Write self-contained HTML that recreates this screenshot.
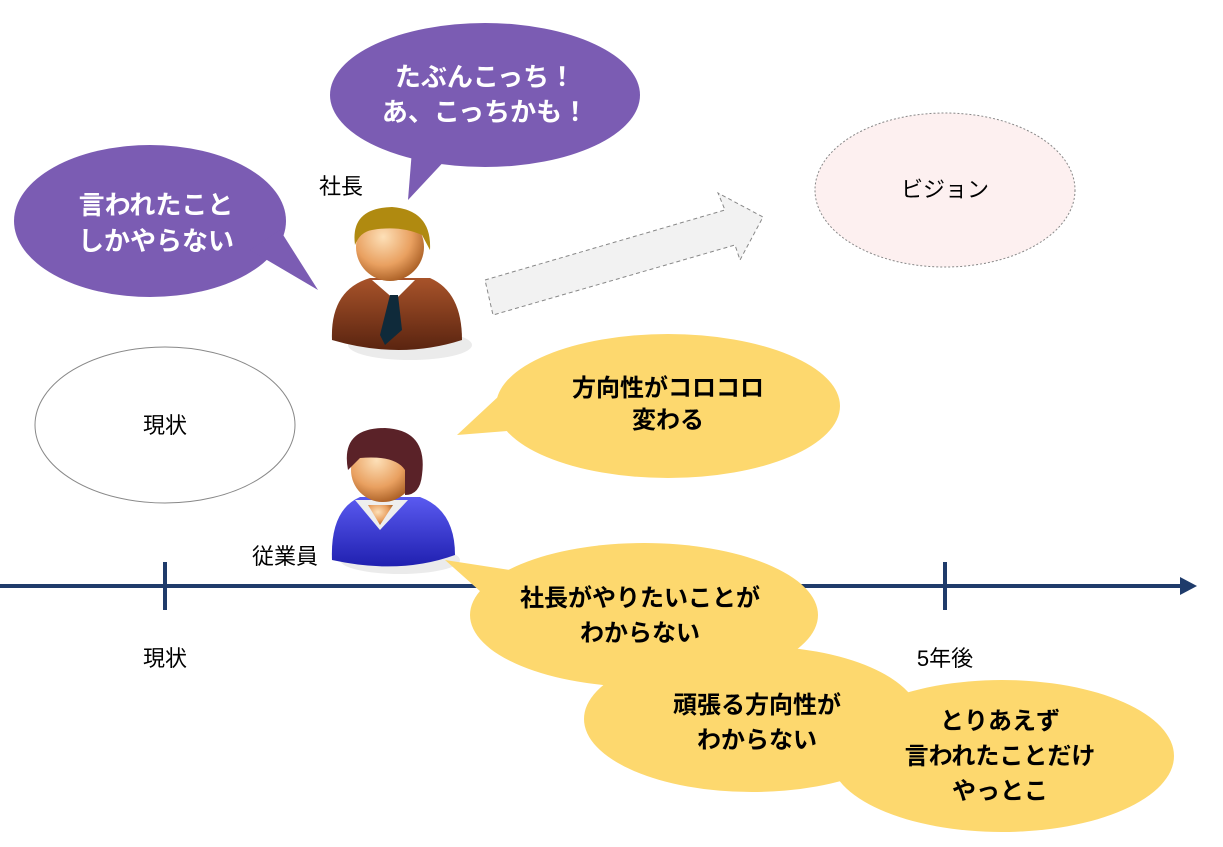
<!DOCTYPE html>
<html><head><meta charset="utf-8"><style>
html,body{margin:0;padding:0;background:#fff;}
svg{display:block;}
text{font-family:"Liberation Sans","Noto Sans CJK JP",sans-serif;}
.w{fill:#fff;font-weight:bold;font-size:26px;text-anchor:middle;}
.b{fill:#000;font-weight:bold;font-size:24px;text-anchor:middle;}
.n{fill:#000;font-size:22px;text-anchor:middle;}
</style></head><body>
<svg width="1223" height="847" viewBox="0 0 1223 847">
<defs>
<radialGradient id="face" cx="40%" cy="35%" r="70%"><stop offset="0" stop-color="#fde0b8"/><stop offset="0.6" stop-color="#e9a060"/><stop offset="1" stop-color="#a55a20"/></radialGradient>
<linearGradient id="suit" x1="0" y1="0" x2="0" y2="1"><stop offset="0" stop-color="#a8532a"/><stop offset="1" stop-color="#5a2410"/></linearGradient>
<linearGradient id="blue" x1="0" y1="0" x2="0" y2="1"><stop offset="0" stop-color="#5a5af0"/><stop offset="1" stop-color="#2020b0"/></linearGradient>
</defs>

<line x1="0" y1="586" x2="1185" y2="586" stroke="#1f3b6b" stroke-width="4"/>
<polygon points="1180,577 1197,586 1180,595" fill="#1f3b6b"/>
<line x1="165" y1="562" x2="165" y2="610" stroke="#1f3b6b" stroke-width="4"/>
<line x1="945" y1="562" x2="945" y2="610" stroke="#1f3b6b" stroke-width="4"/>
<text class="n" x="165" y="666">現状</text>
<text class="n" x="945" y="666">5年後</text>

<ellipse cx="485" cy="95" rx="155" ry="72" fill="#7b5cb3"/>
<polygon points="412,150 450,155 408,200" fill="#7b5cb3"/>
<text class="w" x="485" y="86" font-size="27">たぶんこっち！</text>
<text class="w" x="485" y="121" font-size="27">あ、こっちかも！</text>

<ellipse cx="150" cy="221" rx="136" ry="76" fill="#7b5cb3"/>
<polygon points="250,250 280,230 318,290" fill="#7b5cb3"/>
<text class="w" x="156" y="214" font-size="27">言われたこと</text>
<text class="w" x="156" y="250" font-size="27">しかやらない</text>

<text class="n" x="341" y="194" font-size="24">社長</text>

<ellipse cx="410" cy="345" rx="62" ry="15" fill="#ddd" opacity="0.6"/>
<path d="M332,340 Q330,290 370,278 L430,278 Q462,292 462,340 Q400,360 332,340Z" fill="url(#suit)"/>
<polygon points="372,280 395,300 415,280" fill="#fff"/>
<polygon points="390,295 398,295 402,330 385,345 380,335" fill="#0f2a3a"/>
<circle cx="390" cy="247" r="34" fill="url(#face)"/>
<path d="M355,245 Q350,208 392,207 Q432,210 430,250 L422,235 Q400,225 372,230 Q360,232 355,245Z" fill="#b08a10"/>

<polygon points="485,280 725,210 718,193 763,217 740,260 735,245 493,315" fill="#f2f2f2" stroke="#888" stroke-width="1" stroke-dasharray="4,3"/>

<ellipse cx="945" cy="190" rx="130" ry="77" fill="#fdf0f0" stroke="#888" stroke-width="1" stroke-dasharray="2,2"/>
<text class="n" x="945" y="197" font-size="21">ビジョン</text>

<ellipse cx="165" cy="425" rx="130" ry="78" fill="#fff" stroke="#888" stroke-width="1"/>
<text class="n" x="165" y="433" font-size="24">現状</text>

<ellipse cx="668" cy="406" rx="172" ry="72" fill="#fdd86e"/>
<polygon points="500,395 520,430 457,435" fill="#fdd86e"/>
<text class="b" x="668" y="396">方向性がコロコロ</text>
<text class="b" x="668" y="428">変わる</text>

<ellipse cx="400" cy="560" rx="60" ry="14" fill="#ddd" opacity="0.6"/>
<path d="M332,560 Q330,510 360,497 L420,497 Q455,510 455,555 Q400,575 332,560Z" fill="url(#blue)"/>
<polygon points="355,500 380,530 408,500" fill="#eee"/>
<polygon points="368,505 393,505 380,525" fill="url(#face)"/>
<circle cx="383" cy="470" r="32" fill="url(#face)"/>
<path d="M348,470 Q340,428 385,428 Q428,430 422,475 Q420,495 405,495 L405,470 Q395,455 360,458 Z" fill="#5a2228"/>

<text class="n" x="285" y="564" font-size="24">従業員</text>

<ellipse cx="644" cy="615" rx="174" ry="72" fill="#fdd86e"/>
<polygon points="445,560 510,570 490,600" fill="#fdd86e"/>
<ellipse cx="752" cy="719" rx="168" ry="73" fill="#fdd86e"/>
<ellipse cx="1002" cy="756" rx="172" ry="76" fill="#fdd86e"/>
<text class="b" x="640" y="606">社長がやりたいことが</text>
<text class="b" x="640" y="641">わからない</text>
<text class="b" x="757" y="713">頑張る方向性が</text>
<text class="b" x="757" y="748">わからない</text>
<text class="b" x="1000" y="729">とりあえず</text>
<text class="b" x="1000" y="764">言われたことだけ</text>
<text class="b" x="1000" y="799">やっとこ</text>
</svg>
</body></html>
